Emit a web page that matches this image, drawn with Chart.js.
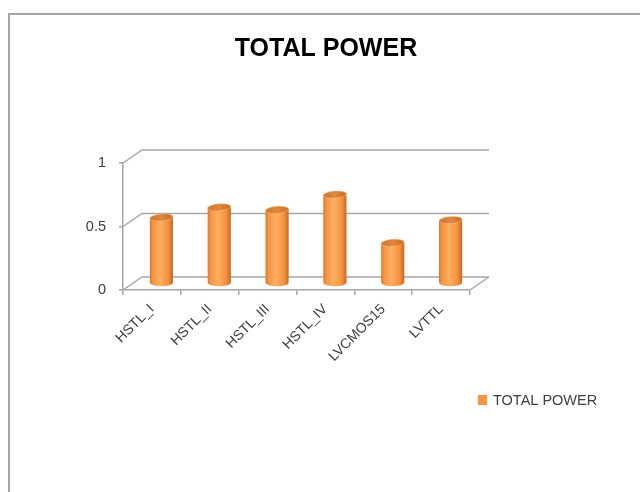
<!DOCTYPE html>
<html>
<head>
<meta charset="utf-8">
<script src="https://cdn.jsdelivr.net/npm/chart.js@4.4.1/dist/chart.umd.min.js"></script>
<style>
    body { margin: 0; background: #fff; }
    .frame { position: absolute; left: 8px; top: 13px; width: 700px; height: 600px; border: 2px solid #a6a6a6; }
    #chart { position: absolute; left: 0; top: 0; }
</style>
</head>
<body>
<div class="frame"></div>
<canvas id="chart" width="640" height="492"></canvas>
<script>
// Data
const categories = ['HSTL_I', 'HSTL_II', 'HSTL_III', 'HSTL_IV', 'LVCMOS15', 'LVTTL'];
const totalPower = [0.52, 0.6, 0.58, 0.7, 0.32, 0.5];
const yTicks = [0, 0.5, 1];
const seriesName = 'TOTAL POWER';

// 3D look
const depthX = 19;
const depthY = -13;
const gridColor = '#a6a6a6';
const fontFamily = '"Liberation Sans", Arial, sans-serif';

function drawCylinder(ctx, cx, top, bottom, w) {
    const rx = w / 2;
    const ry = 3.5;
    const grad = ctx.createLinearGradient(cx - rx, 0, cx + rx, 0);
    grad.addColorStop(0, '#d8762a');
    grad.addColorStop(0.12, '#f59443');
    grad.addColorStop(0.45, '#ffae62');
    grad.addColorStop(0.8, '#f3913f');
    grad.addColorStop(1, '#c8681e');

    ctx.save();
    ctx.beginPath();
    ctx.moveTo(cx - rx, top);
    ctx.lineTo(cx - rx, bottom);
    ctx.ellipse(cx, bottom, rx, ry, 0, Math.PI, 0, true);
    ctx.lineTo(cx + rx, top);
    ctx.closePath();
    ctx.fillStyle = grad;
    ctx.fill();

    // top cap
    const capGrad = ctx.createLinearGradient(cx - rx, 0, cx + rx, 0);
    capGrad.addColorStop(0, '#cf7530');
    capGrad.addColorStop(0.5, '#de883e');
    capGrad.addColorStop(1, '#c96e26');
    ctx.beginPath();
    ctx.ellipse(cx, top, rx, ry, -0.08, 0, Math.PI * 2);
    ctx.fillStyle = capGrad;
    ctx.fill();
    ctx.strokeStyle = 'rgba(255,190,130,0.6)';
    ctx.lineWidth = 0.8;
    ctx.stroke();
    ctx.restore();
}

const wallPlugin = {
    id: 'wall3d',
    beforeDatasetsDraw(chart) {
        const ctx = chart.ctx;
        const area = chart.chartArea;
        const y = chart.scales.y;
        ctx.save();
        ctx.strokeStyle = gridColor;
        ctx.lineWidth = 1.5;
        yTicks.forEach(v => {
            const py = y.getPixelForValue(v);
            ctx.beginPath();
            ctx.moveTo(area.left, py);
            ctx.lineTo(area.left + depthX, py + depthY);
            ctx.lineTo(area.right + depthX, py + depthY);
            ctx.stroke();
        });
        // floor right edge
        const p0 = y.getPixelForValue(0);
        ctx.beginPath();
        ctx.moveTo(area.right, p0);
        ctx.lineTo(area.right + depthX, p0 + depthY);
        ctx.stroke();
        ctx.restore();
    },
    beforeDatasetDraw() {
        return false;
    },
    afterDatasetsDraw(chart) {
        const ctx = chart.ctx;
        const meta = chart.getDatasetMeta(0);
        meta.data.forEach(bar => {
            const cx = bar.x + depthX / 2;
            drawCylinder(ctx, cx, bar.y + depthY / 2, bar.base + depthY / 2, bar.width);
        });
    },
    afterDraw(chart) {
        // legend
        const ctx = chart.ctx;
        ctx.save();
        ctx.fillStyle = chart.data.datasets[0].backgroundColor;
        ctx.fillRect(478, 395, 9, 10);
        ctx.fillStyle = '#404040';
        ctx.font = '14.5px ' + fontFamily;
        ctx.textBaseline = 'middle';
        ctx.textAlign = 'left';
        ctx.fillText(chart.data.datasets[0].label, 493, 401);
        ctx.restore();
    }
};

new Chart(document.getElementById('chart'), {
    type: 'bar',
    data: {
        labels: categories,
        datasets: [{
            label: seriesName,
            data: totalPower,
            backgroundColor: '#f79646',
            categoryPercentage: 1,
            barPercentage: 0.4
        }]
    },
    options: {
        responsive: false,
        animation: false,
        layout: { padding: { left: 12, right: 0, top: 0, bottom: 0 } },
        plugins: {
            legend: { display: false },
            tooltip: { enabled: false },
            title: {
                display: true,
                text: seriesName,
                color: '#000',
                font: { family: fontFamily, size: 25, weight: 'bold' },
                padding: { top: 34, bottom: 99 }
            }
        },
        scales: {
            y: {
                min: 0,
                max: 1,
                afterBuildTicks(scale) {
                    scale.ticks = yTicks.map(v => ({ value: v }));
                },
                afterFit(scale) { scale.width = 111; },
                grid: { drawOnChartArea: false, tickLength: 4, color: gridColor, lineWidth: 1.5 },
                border: { color: gridColor, width: 1.5 },
                ticks: {
                    padding: 13,
                    color: '#404040',
                    font: { family: fontFamily, size: 14.5 },
                    callback: v => String(v)
                }
            },
            // empty right box, keeps the plot narrow like the original
            side: {
                position: 'right',
                min: 0,
                max: 1,
                afterFit(scale) { scale.width = 170; },
                grid: { display: false },
                border: { display: false },
                ticks: { display: false }
            },
            x: {
                afterFit(scale) { scale.height = 202; },
                grid: { drawOnChartArea: false, tickLength: 5, color: gridColor, lineWidth: 1.5 },
                border: { color: gridColor, width: 1.5 },
                ticks: {
                    minRotation: 45,
                    maxRotation: 45,
                    padding: 6,
                    color: '#404040',
                    font: { family: fontFamily, size: 14 }
                }
            }
        }
    },
    plugins: [wallPlugin]
});
</script>
</body>
</html>
